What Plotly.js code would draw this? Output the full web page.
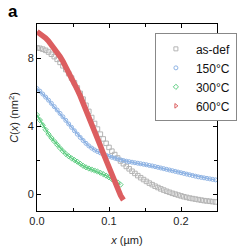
<!DOCTYPE html>
<html><head><meta charset="utf-8">
<script src="https://cdn.plot.ly/plotly-3.0.1.min.js"></script>
<style>html,body{margin:0;padding:0;background:#fff}#c{width:249px;height:249px}</style>
</head><body><div id="c"></div>
<script>
const seriesNames = ["as-def", "150°C", "300°C", "600°C"];
const xAsDef = [0.000,0.004,0.008,0.012,0.016,0.020,0.024,0.028,0.032,0.036,0.040,0.044,0.048,0.052,0.056,0.060,0.064,0.068,0.072,0.076,0.080,0.084,0.088,0.092,0.096,0.100,0.104,0.108,0.112,0.116,0.120,0.124,0.128,0.132,0.136,0.140,0.144,0.148,0.152,0.156,0.160,0.164,0.168,0.172,0.176,0.180,0.184,0.188,0.192,0.196,0.200,0.204,0.208,0.212,0.216,0.220,0.224,0.228,0.232,0.236,0.240,0.244,0.248];
const yAsDef = [8.60,8.57,8.52,8.45,8.35,8.22,8.08,7.92,7.74,7.54,7.32,7.08,6.82,6.54,6.24,5.92,5.58,5.22,4.86,4.50,4.15,3.82,3.52,3.24,2.98,2.74,2.52,2.32,2.12,1.94,1.78,1.62,1.48,1.34,1.21,1.08,0.96,0.85,0.74,0.64,0.55,0.46,0.38,0.30,0.23,0.16,0.10,0.04,-0.01,-0.06,-0.11,-0.16,-0.20,-0.24,-0.27,-0.30,-0.33,-0.36,-0.39,-0.41,-0.43,-0.45,-0.47];
const x150 = xAsDef;
const y150 = [6.20,6.05,5.88,5.70,5.52,5.33,5.14,4.94,4.74,4.54,4.33,4.12,3.92,3.72,3.52,3.33,3.15,2.98,2.83,2.70,2.59,2.50,2.42,2.35,2.28,2.22,2.16,2.11,2.06,2.01,1.97,1.93,1.90,1.87,1.84,1.81,1.78,1.75,1.72,1.68,1.65,1.61,1.57,1.53,1.49,1.45,1.41,1.37,1.33,1.29,1.25,1.21,1.17,1.13,1.09,1.05,1.01,0.98,0.95,0.92,0.89,0.86,0.83];
const x300 = [0.000,0.004,0.008,0.012,0.016,0.020,0.024,0.028,0.032,0.036,0.040,0.044,0.048,0.052,0.056,0.060,0.064,0.068,0.072,0.076,0.080,0.084,0.088,0.092,0.096,0.100,0.104,0.108,0.112,0.116];
const y300 = [4.65,4.35,4.05,3.78,3.52,3.30,3.10,2.90,2.70,2.52,2.36,2.22,2.10,2.00,1.90,1.78,1.66,1.57,1.50,1.44,1.38,1.32,1.25,1.17,1.08,0.98,0.88,0.78,0.68,0.55];
const x600 = [0.000,0.004,0.008,0.012,0.016,0.020,0.024,0.028,0.032,0.036,0.040,0.044,0.048,0.052,0.056,0.060,0.064,0.068,0.072,0.076,0.080,0.084,0.088,0.092,0.096,0.100,0.104,0.108,0.112,0.116,0.120];
const y600 = [9.55,9.45,9.32,9.17,9.00,8.80,8.58,8.34,8.08,7.80,7.50,7.18,6.85,6.50,6.14,5.77,5.38,4.98,4.57,4.15,3.72,3.28,2.84,2.40,1.96,1.52,1.08,0.66,0.26,-0.08,-0.35];

const colors = ["#b4b4b4", "#8eb3e4", "#5fcd82", "#dc5e60"];
const symbols = ["square-open", "circle-open", "diamond-open", "triangle-right-open"];

const traces = [
  {x: xAsDef, y: yAsDef, mode: "markers", marker: {symbol: symbols[0], size: 4.5, color: colors[0], line: {width: 1}}, showlegend: false},
  {x: x150, y: y150, mode: "markers+lines", line: {color: colors[1], width: 1.5}, marker: {symbol: symbols[1], size: 4, color: colors[1], line: {width: 1}}, showlegend: false},
  {x: x300, y: y300, mode: "markers+lines", line: {color: colors[2], width: 1.5}, marker: {symbol: symbols[2], size: 4, color: colors[2], line: {width: 1}}, showlegend: false},
  {x: x600, y: y600, mode: "lines", line: {color: colors[3], width: 5.5}, showlegend: false},
];
for (let i = 0; i < 4; i++) {
  traces.push({x: [null], y: [null], mode: "markers", name: seriesNames[i],
    marker: {symbol: symbols[i], size: 4, color: colors[i], line: {width: 1}}});
}
const font = {family: "Liberation Sans, Arial, sans-serif", size: 11, color: "#222"};
const axisCommon = {showline: true, linecolor: "#000", linewidth: 1, mirror: "ticks", ticks: "inside", ticklen: 4, tickcolor: "#000", showgrid: false, zeroline: false, tickfont: font, automargin: false};
const layout = {
  width: 249, height: 249,
  margin: {l: 37, r: 12, t: 24, b: 38},
  paper_bgcolor: "#fff", plot_bgcolor: "#fff",
  font: font,
  xaxis: Object.assign({}, axisCommon, {range: [0, 0.25], tickvals: [0, 0.1, 0.2], ticktext: ["0.0", "0.1", "0.2"],
    minor: {tickvals: [0.05, 0.15], ticks: "inside", ticklen: 3, tickcolor: "#000"},
    title: {text: "<i>x</i> (µm)", font: font, standoff: 10}}),
  yaxis: Object.assign({}, axisCommon, {range: [-1, 10], tickvals: [0, 4, 8],
    minor: {tickvals: [2, 6], ticks: "inside", ticklen: 3, tickcolor: "#000"},
    title: {text: "<i>C</i>(<i>x</i>) (nm<sup>2</sup>)", font: font, standoff: 6}}),
  legend: {x: 0.655, y: 0.95, xanchor: "left", yanchor: "top", bordercolor: "#888", borderwidth: 1, bgcolor: "#fff",
    font: {family: "Liberation Sans, Arial, sans-serif", size: 12, color: "#111"}, tracegroupgap: 0, itemwidth: 30},
  annotations: [{text: "<b>a</b>", xref: "paper", yref: "paper", x: -0.17, y: 1.13, xanchor: "left", yanchor: "top", showarrow: false,
    font: {family: "Liberation Sans, Arial, sans-serif", size: 17, color: "#000"}}]
};
Plotly.newPlot("c", traces, layout, {staticPlot: true, displayModeBar: false});
</script></body></html>
